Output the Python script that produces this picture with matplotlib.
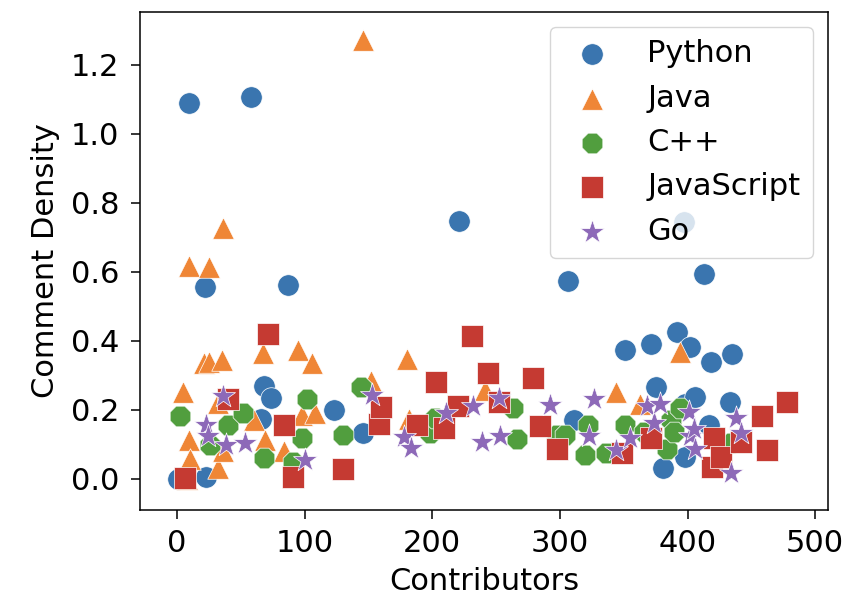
import matplotlib
matplotlib.use("Agg")
import matplotlib.pyplot as plt

py_x = [1, 9, 22, 23, 58, 66, 68, 74, 87, 123, 146, 221, 306, 311, 351, 371, 375, 381, 392, 397, 398, 398, 402, 406, 413, 417, 418, 433, 435]
py_y = [0.0, 1.09, 0.557, 0.007, 1.108, 0.175, 0.27, 0.234, 0.561, 0.2, 0.132, 0.747, 0.573, 0.17, 0.374, 0.39, 0.265, 0.032, 0.427, 0.745, 0.218, 0.065, 0.381, 0.237, 0.595, 0.155, 0.338, 0.222, 0.362]

java_x = [5, 8, 9, 9, 10, 21, 25, 25, 32, 32, 35, 36, 36, 60, 67, 69, 84, 95, 98, 106, 108, 146, 152, 180, 182, 241, 344, 363, 394]
java_y = [0.253, 0.0, 0.617, 0.113, 0.058, 0.335, 0.614, 0.34, 0.219, 0.031, 0.345, 0.728, 0.08, 0.171, 0.364, 0.113, 0.082, 0.375, 0.186, 0.337, 0.19, 1.271, 0.283, 0.347, 0.175, 0.258, 0.253, 0.216, 0.369]

cpp_x = [2, 26, 40, 52, 68, 91, 98, 102, 130, 144, 198, 202, 263, 266, 298, 304, 322, 320, 336, 351, 366, 384, 387, 389, 394, 434]
cpp_y = [0.183, 0.099, 0.157, 0.19, 0.06, 0.05, 0.118, 0.232, 0.127, 0.265, 0.132, 0.178, 0.205, 0.115, 0.128, 0.128, 0.155, 0.07, 0.074, 0.157, 0.137, 0.086, 0.171, 0.135, 0.205, 0.103]

js_x = [6, 40, 71, 84, 91, 130, 158, 160, 188, 203, 209, 220, 231, 244, 252, 279, 284, 298, 349, 371, 419, 421, 426, 442, 458, 462, 478]
js_y = [0.002, 0.232, 0.42, 0.155, 0.005, 0.028, 0.16, 0.208, 0.157, 0.28, 0.149, 0.21, 0.415, 0.308, 0.224, 0.292, 0.154, 0.086, 0.076, 0.118, 0.034, 0.12, 0.065, 0.108, 0.183, 0.084, 0.224]

go_x = [23, 24, 36, 38, 53, 100, 153, 178, 183, 211, 232, 239, 252, 253, 292, 323, 327, 344, 355, 368, 374, 378, 401, 402, 405, 406, 434, 438, 442]
go_y = [0.157, 0.123, 0.24, 0.099, 0.105, 0.055, 0.244, 0.122, 0.09, 0.19, 0.21, 0.108, 0.234, 0.123, 0.214, 0.123, 0.232, 0.084, 0.118, 0.21, 0.161, 0.217, 0.195, 0.123, 0.145, 0.086, 0.016, 0.176, 0.132]

series = [
    ("Python", py_x, py_y, "o", "#3A75AF", 240),
    ("Java", java_x, java_y, "^", "#EF8636", 240),
    ("C++", cpp_x, cpp_y, "8", "#519E3E", 260),
    ("JavaScript", js_x, js_y, "s", "#C53A32", 230),
    ("Go", go_x, go_y, "*", "#8D69B8", 330),
]

plt.rcParams["font.family"] = ["DejaVu Sans"]
plt.rcParams["font.size"] = 22
plt.rcParams["xtick.major.size"] = 6.5
plt.rcParams["ytick.major.size"] = 6.5
plt.rcParams["xtick.major.width"] = 1.1
plt.rcParams["ytick.major.width"] = 1.1
plt.rcParams["xtick.major.pad"] = 7.5
plt.rcParams["ytick.major.pad"] = 8.5
plt.rcParams["axes.linewidth"] = 1.1

fig = plt.figure(figsize=(8.49, 6.03), dpi=100)
ax = fig.add_axes([140/849, 1 - 510/603, (828-140)/849, (510-12)/603])

for name, xs, ys, m, c, s in series:
    ax.scatter(xs, ys, s=s, marker=m, color=c, edgecolors="white", linewidths=0.5, label=name)

ax.set_xlim(-29, 510)
ax.set_ylim(-0.09, 1.353)
ax.set_xticks([0, 100, 200, 300, 400, 500])
ax.set_yticks([0.0, 0.2, 0.4, 0.6, 0.8, 1.0, 1.2])
ax.set_xlabel("Contributors", labelpad=6)
ax.set_ylabel("Comment Density", labelpad=8)
ax.legend(loc="upper right")

fig.savefig("out.png", dpi=100)
